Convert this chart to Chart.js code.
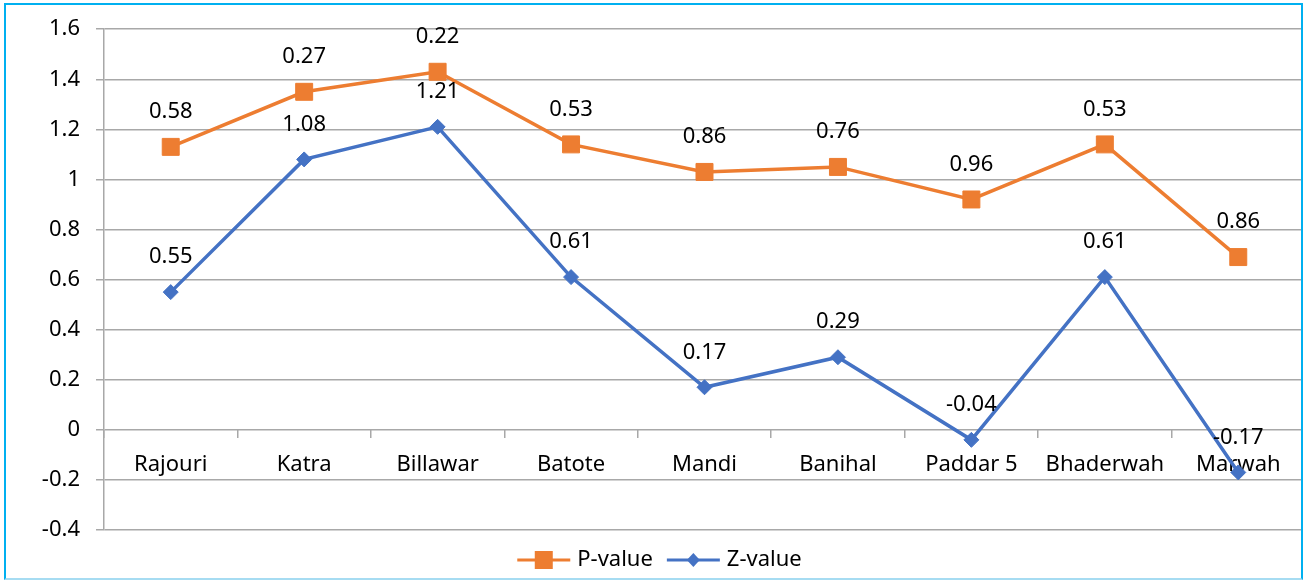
<!DOCTYPE html>
<html>
<head>
<meta charset="utf-8">
<script src="https://cdn.jsdelivr.net/npm/chart.js@4.4.1/dist/chart.umd.min.js"></script>
<style>
  html, body { margin: 0; padding: 0; background: #fff; }
  #wrap { position: relative; width: 1303px; height: 580px; overflow: hidden; }
  #chart { position: absolute; left: 0; top: 0; }
  #frame {
    position: absolute; left: 4px; top: 3px; width: 1295px; height: 573px;
    border: 2px solid #00b0f0; border-bottom: 2px solid #a6dcf2; pointer-events: none;
  }
</style>
</head>
<body>
<div id="wrap">
  <canvas id="chart" width="1318" height="580"></canvas>
  <div id="frame"></div>
</div>
<script>
const categories = ["Rajouri", "Katra", "Billawar", "Batote", "Mandi", "Banihal", "Paddar 5", "Bhaderwah", "Marwah"];
const zValues = [0.55, 1.08, 1.21, 0.61, 0.17, 0.29, -0.04, 0.61, -0.17];
const pValues = [0.58, 0.27, 0.22, 0.53, 0.86, 0.76, 0.96, 0.53, 0.86];
const yMin = -0.4;
const yMax = 1.6;
const yStep = 0.2;

const FONT = "'Noto Sans', 'Open Sans', sans-serif";
const FSIZE = 22;
const GRID = "#a8a8a8";
const PAGE_W = 1303;

// value labels above each point (shows own value, not the stacked total)
const valueLabels = {
  id: "valueLabels",
  afterDatasetsDraw(chart) {
    const ctx = chart.ctx;
    ctx.save();
    ctx.font = FSIZE + "px " + FONT;
    ctx.fillStyle = "#000";
    ctx.textAlign = "center";
    ctx.textBaseline = "middle";
    chart.data.datasets.forEach((ds, i) => {
      chart.getDatasetMeta(i).data.forEach((pt, j) => {
        ctx.fillText(String(ds.data[j]), pt.x, pt.y - 35);
      });
    });
    ctx.restore();
  }
};

// excel-style legend: line with marker through it
const lineLegend = {
  id: "lineLegend",
  afterDraw(chart) {
    const ctx = chart.ctx;
    const order = [1, 0];
    const lineW = 53, gap = 7, between = 14;
    ctx.save();
    ctx.font = FSIZE + "px " + FONT;
    const widths = order.map(i => lineW + gap + ctx.measureText(chart.data.datasets[i].label).width);
    const total = widths.reduce((a, b) => a + b, 0) + between * (order.length - 1);
    let x = PAGE_W / 2 - total / 2 + 8;
    const y = 560;
    order.forEach((i, k) => {
      const ds = chart.data.datasets[i];
      ctx.strokeStyle = ds.borderColor;
      ctx.lineWidth = 3;
      ctx.beginPath();
      ctx.moveTo(x, y);
      ctx.lineTo(x + lineW, y);
      ctx.stroke();
      ctx.fillStyle = ds.borderColor;
      const cx = x + lineW / 2;
      if (ds.pointStyle === "rect") {
        ctx.fillRect(cx - 9, y - 9, 18, 18);
      } else {
        ctx.beginPath();
        ctx.moveTo(cx, y - 7);
        ctx.lineTo(cx + 6.5, y);
        ctx.lineTo(cx, y + 7);
        ctx.lineTo(cx - 6.5, y);
        ctx.closePath();
        ctx.fill();
      }
      ctx.fillStyle = "#000";
      ctx.textBaseline = "middle";
      ctx.fillText(ds.label, x + lineW + gap, y);
      x += widths[k] + between;
    });
    ctx.restore();
  }
};

new Chart(document.getElementById("chart"), {
  type: "line",
  data: {
    labels: categories,
    datasets: [
      {
        label: "Z-value",
        data: zValues,
        borderColor: "#4472c4",
        backgroundColor: "#4472c4",
        borderWidth: 3.5,
        pointStyle: "rectRot",
        pointRadius: 7.5,
        pointBorderWidth: 1,
        tension: 0
      },
      {
        label: "P-value",
        data: pValues,
        borderColor: "#ed7d31",
        backgroundColor: "#ed7d31",
        borderWidth: 3.5,
        pointStyle: "rect",
        pointRadius: 12,
        pointBorderWidth: 1,
        tension: 0
      }
    ]
  },
  options: {
    responsive: false,
    animation: false,
    layout: { padding: { top: 29, right: 0, bottom: 50, left: 0 } },
    plugins: {
      legend: { display: false },
      tooltip: { enabled: false }
    },
    scales: {
      x: {
        position: { y: 0 },
        offset: true,
        afterFit(scale) { scale.paddingLeft = 0; scale.paddingRight = 0; },
        grid: { offset: true, drawOnChartArea: false, drawTicks: true, tickLength: 8, color: GRID, lineWidth: 1.5 },
        border: { display: false },
        ticks: { color: "#000", font: { family: FONT, size: FSIZE }, padding: 14, maxRotation: 0, autoSkip: false }
      },
      y: {
        stacked: "single",
        min: yMin,
        max: yMax,
        afterFit(scale) { scale.width = 104; },
        grid: { color: GRID, lineWidth: 1.5, tickLength: 8 },
        border: { color: GRID, width: 1.5 },
        ticks: {
          stepSize: yStep,
          color: "#000",
          padding: 16,
          font: { family: FONT, size: FSIZE },
          callback: v => String(Math.round(v * 10) / 10)
        }
      }
    }
  },
  plugins: [valueLabels, lineLegend]
});
</script>
</body>
</html>
